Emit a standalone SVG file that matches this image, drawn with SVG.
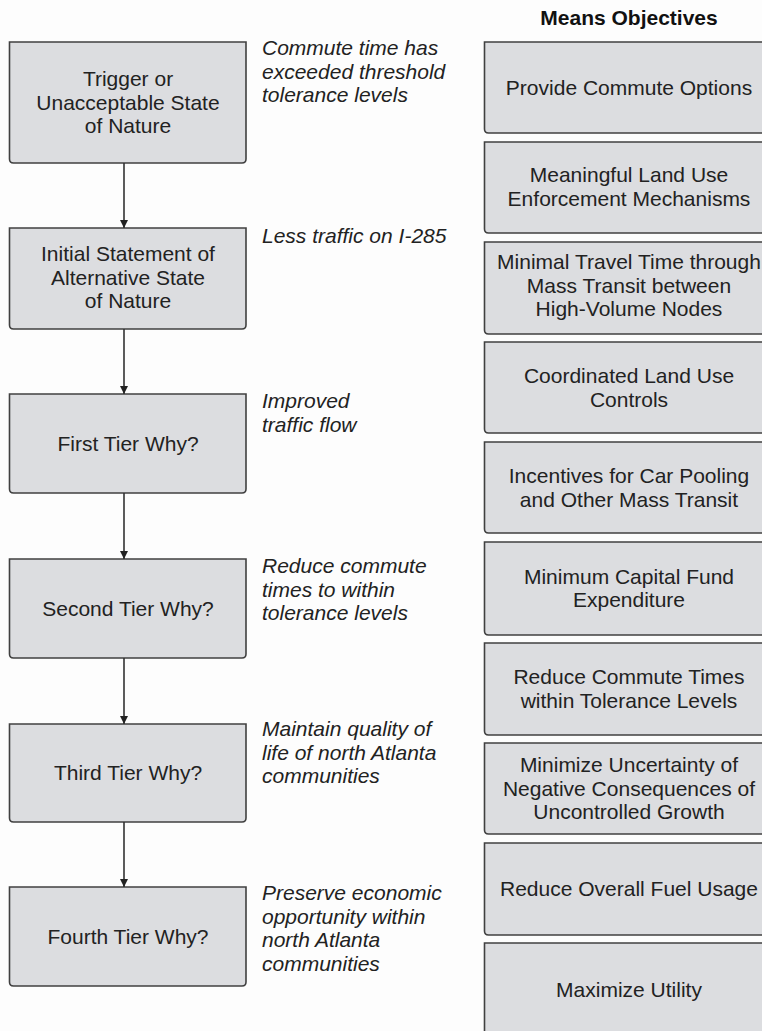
<svg xmlns="http://www.w3.org/2000/svg" width="762" height="1031" viewBox="0 0 762 1031">
  <style>
    .box { fill: #dcdde0; stroke: #404040; stroke-width: 1.6; }
    .lbl { font-family: "Liberation Sans", Arial, sans-serif; font-size: 21px; fill: #222; text-anchor: middle; }
    .note { font-family: "Liberation Sans", Arial, sans-serif; font-size: 21px; font-style: italic; fill: #222; }
    .head { font-family: "Liberation Sans", Arial, sans-serif; font-size: 21px; font-weight: bold; fill: #111; text-anchor: middle; }
    .link { stroke: #333; stroke-width: 1.6; fill: none; }
  </style>
  <defs>
    <marker id="arrow" viewBox="0 0 10 10" refX="10" refY="5" markerWidth="8" markerHeight="8" markerUnits="userSpaceOnUse" orient="auto">
      <path d="M0,0 L10,5 L0,10 Z" fill="#222"/>
    </marker>
  </defs>
  <rect width="762" height="1031" fill="#fdfdfd"/>

  <!-- Left chain: trigger, statement and the tiers of "why" -->
  <g id="trigger">
    <path class="box" d="M9.5,42 H246 V159 Q246,163 242,163 H13.5 Q9.5,163 9.5,159 Z"/>
    <text class="lbl" x="128" y="86">Trigger or</text>
    <text class="lbl" x="128" y="109.5">Unacceptable State</text>
    <text class="lbl" x="128" y="133">of Nature</text>
  </g>
  <g id="initial-statement">
    <path class="box" d="M9.5,228 H246 V325 Q246,329 242,329 H13.5 Q9.5,329 9.5,325 Z"/>
    <text class="lbl" x="128" y="261">Initial Statement of</text>
    <text class="lbl" x="128" y="284.5">Alternative State</text>
    <text class="lbl" x="128" y="308">of Nature</text>
  </g>
  <g id="tier-1">
    <path class="box" d="M9.5,394 H246 V489 Q246,493 242,493 H13.5 Q9.5,493 9.5,489 Z"/>
    <text class="lbl" x="128" y="450.5">First Tier Why?</text>
  </g>
  <g id="tier-2">
    <path class="box" d="M9.5,559 H246 V654 Q246,658 242,658 H13.5 Q9.5,658 9.5,654 Z"/>
    <text class="lbl" x="128" y="615.5">Second Tier Why?</text>
  </g>
  <g id="tier-3">
    <path class="box" d="M9.5,724 H246 V818 Q246,822 242,822 H13.5 Q9.5,822 9.5,818 Z"/>
    <text class="lbl" x="128" y="780">Third Tier Why?</text>
  </g>
  <g id="tier-4">
    <path class="box" d="M9.5,887 H246 V982 Q246,986 242,986 H13.5 Q9.5,986 9.5,982 Z"/>
    <text class="lbl" x="128" y="943.5">Fourth Tier Why?</text>
  </g>

  <!-- Connectors between the steps -->
  <g id="connectors">
    <line class="link" x1="124" y1="163" x2="124" y2="228" marker-end="url(#arrow)"/>
    <line class="link" x1="124" y1="329" x2="124" y2="394" marker-end="url(#arrow)"/>
    <line class="link" x1="124" y1="493" x2="124" y2="559" marker-end="url(#arrow)"/>
    <line class="link" x1="124" y1="658" x2="124" y2="724" marker-end="url(#arrow)"/>
    <line class="link" x1="124" y1="822" x2="124" y2="887" marker-end="url(#arrow)"/>
  </g>

  <!-- Italic annotations beside each step -->
  <g id="notes">
    <text class="note" x="262" y="55">Commute time has</text>
    <text class="note" x="262" y="78.5">exceeded threshold</text>
    <text class="note" x="262" y="102">tolerance levels</text>
    <text class="note" x="262" y="243">Less traffic on I-285</text>
    <text class="note" x="262" y="408">Improved</text>
    <text class="note" x="262" y="431.5">traffic flow</text>
    <text class="note" x="262" y="573">Reduce commute</text>
    <text class="note" x="262" y="596.5">times to within</text>
    <text class="note" x="262" y="620">tolerance levels</text>
    <text class="note" x="262" y="736">Maintain quality of</text>
    <text class="note" x="262" y="759.5">life of north Atlanta</text>
    <text class="note" x="262" y="783">communities</text>
    <text class="note" x="262" y="900">Preserve economic</text>
    <text class="note" x="262" y="923.5">opportunity within</text>
    <text class="note" x="262" y="947">north Atlanta</text>
    <text class="note" x="262" y="970.5">communities</text>
  </g>

  <!-- Means objectives column -->
  <g id="means-header">
    <text class="head" x="629" y="25">Means Objectives</text>
  </g>
  <g id="mo-1">
    <path class="box" d="M484.5,42 H776 V129 Q776,133 772,133 H488.5 Q484.5,133 484.5,129 Z"/>
    <text class="lbl" x="629" y="94.5">Provide Commute Options</text>
  </g>
  <g id="mo-2">
    <path class="box" d="M484.5,142 H776 V229 Q776,233 772,233 H488.5 Q484.5,233 484.5,229 Z"/>
    <text class="lbl" x="629" y="182">Meaningful Land Use</text>
    <text class="lbl" x="629" y="205.5">Enforcement Mechanisms</text>
  </g>
  <g id="mo-3">
    <path class="box" d="M484.5,242 H776 V330 Q776,334 772,334 H488.5 Q484.5,334 484.5,330 Z"/>
    <text class="lbl" x="629" y="269">Minimal Travel Time through</text>
    <text class="lbl" x="629" y="292.5">Mass Transit between</text>
    <text class="lbl" x="629" y="316">High-Volume Nodes</text>
  </g>
  <g id="mo-4">
    <path class="box" d="M484.5,342 H776 V429 Q776,433 772,433 H488.5 Q484.5,433 484.5,429 Z"/>
    <text class="lbl" x="629" y="383">Coordinated Land Use</text>
    <text class="lbl" x="629" y="406.5">Controls</text>
  </g>
  <g id="mo-5">
    <path class="box" d="M484.5,442 H776 V529 Q776,533 772,533 H488.5 Q484.5,533 484.5,529 Z"/>
    <text class="lbl" x="629" y="483">Incentives for Car Pooling</text>
    <text class="lbl" x="629" y="506.5">and Other Mass Transit</text>
  </g>
  <g id="mo-6">
    <path class="box" d="M484.5,542 H776 V631 Q776,635 772,635 H488.5 Q484.5,635 484.5,631 Z"/>
    <text class="lbl" x="629" y="583.5">Minimum Capital Fund</text>
    <text class="lbl" x="629" y="607">Expenditure</text>
  </g>
  <g id="mo-7">
    <path class="box" d="M484.5,643 H776 V731 Q776,735 772,735 H488.5 Q484.5,735 484.5,731 Z"/>
    <text class="lbl" x="629" y="684">Reduce Commute Times</text>
    <text class="lbl" x="629" y="707.5">within Tolerance Levels</text>
  </g>
  <g id="mo-8">
    <path class="box" d="M484.5,743 H776 V830 Q776,834 772,834 H488.5 Q484.5,834 484.5,830 Z"/>
    <text class="lbl" x="629" y="772">Minimize Uncertainty of</text>
    <text class="lbl" x="629" y="795.5">Negative Consequences of</text>
    <text class="lbl" x="629" y="819">Uncontrolled Growth</text>
  </g>
  <g id="mo-9">
    <path class="box" d="M484.5,843 H776 V931 Q776,935 772,935 H488.5 Q484.5,935 484.5,931 Z"/>
    <text class="lbl" x="629" y="896">Reduce Overall Fuel Usage</text>
  </g>
  <g id="mo-10">
    <path class="box" d="M484.5,943 H776 V1032 Q776,1036 772,1036 H488.5 Q484.5,1036 484.5,1032 Z"/>
    <text class="lbl" x="629" y="997">Maximize Utility</text>
  </g>
</svg>
